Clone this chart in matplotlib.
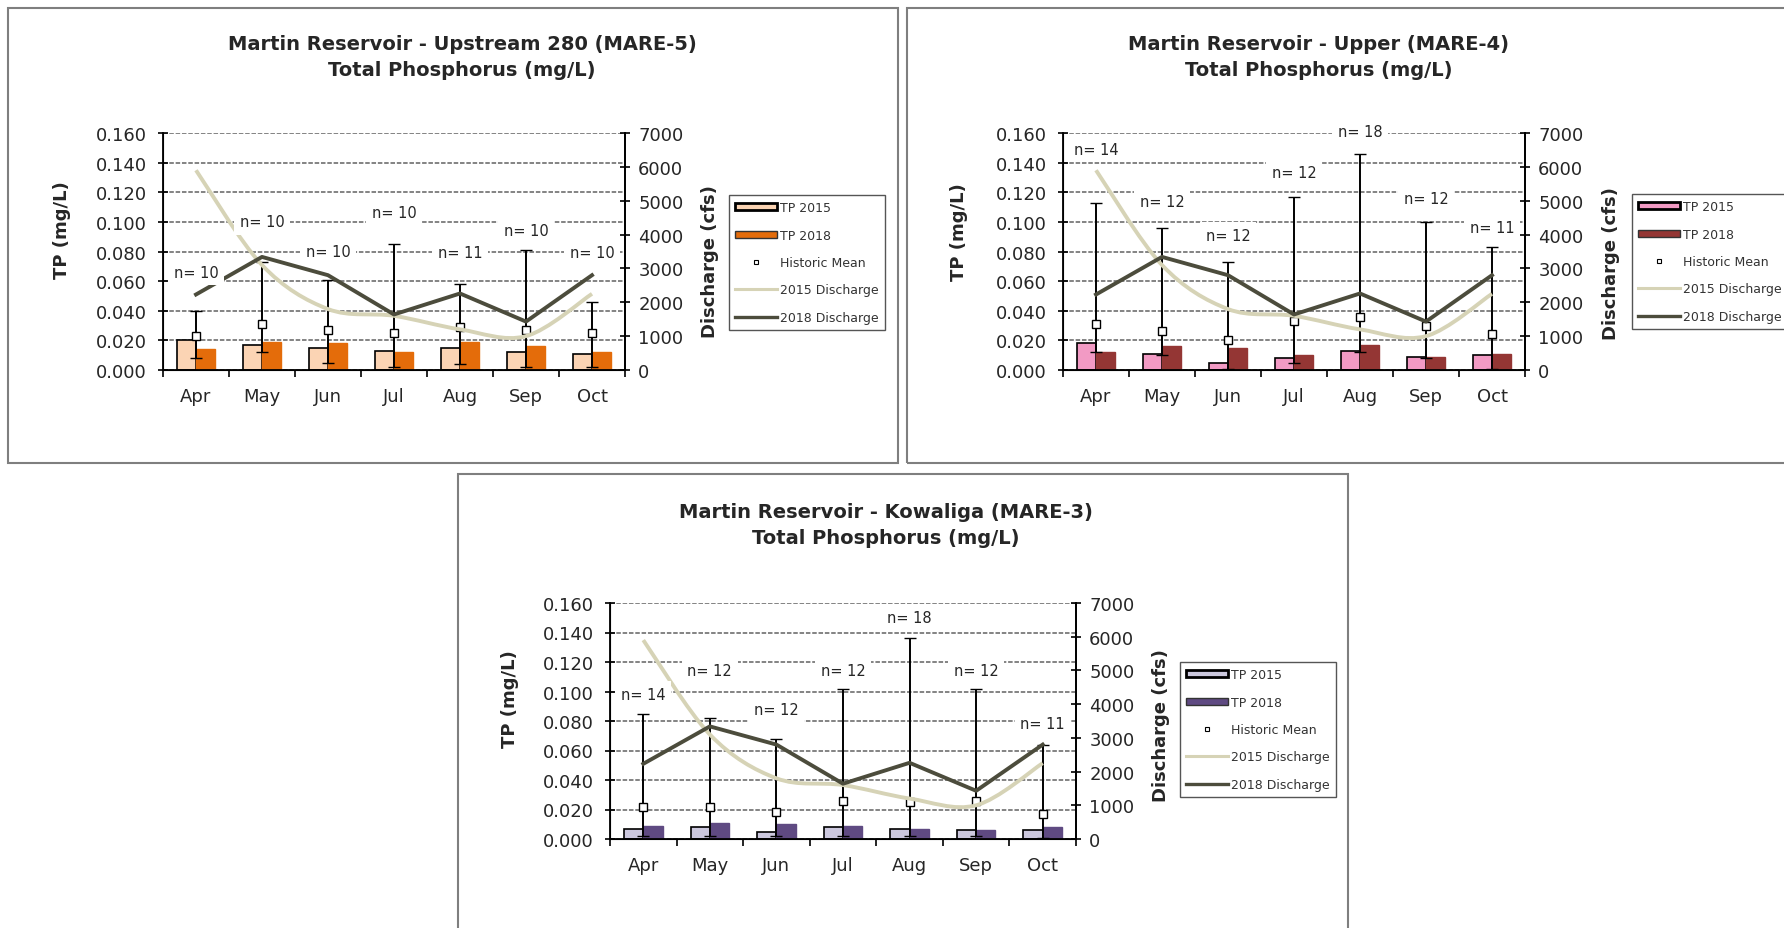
import numpy as np
import matplotlib.pyplot as plt
from matplotlib.path import Path
from matplotlib.patches import PathPatch, Rectangle
from matplotlib.lines import Line2D

W, H = 1784, 929

months = ['Apr', 'May', 'Jun', 'Jul', 'Aug', 'Sep', 'Oct']

# discharge (cfs) - same river flow on all three charts
discharge_2015 = [5900, 3100, 1800, 1600, 1200, 1000, 2250]
discharge_2018 = [2230, 3340, 2800, 1640, 2260, 1430, 2800]

# MARE-5, Upstream 280
mare5_tp2015 = [0.020, 0.017, 0.015, 0.013, 0.015, 0.012, 0.011]
mare5_tp2018 = [0.014, 0.019, 0.018, 0.012, 0.019, 0.016, 0.012]
mare5_mean = [0.023, 0.031, 0.027, 0.025, 0.029, 0.027, 0.025]
mare5_min = [0.008, 0.012, 0.005, 0.002, 0.004, 0.002, 0.002]
mare5_max = [0.040, 0.073, 0.061, 0.085, 0.058, 0.081, 0.046]
mare5_n = [10, 10, 10, 10, 11, 10, 10]
mare5_n_y = [0.066, 0.100, 0.080, 0.106, 0.079, 0.094, 0.079]

# MARE-4, Upper
mare4_tp2015 = [0.018, 0.011, 0.005, 0.008, 0.013, 0.009, 0.010]
mare4_tp2018 = [0.012, 0.016, 0.015, 0.010, 0.017, 0.009, 0.011]
mare4_mean = [0.031, 0.026, 0.020, 0.033, 0.036, 0.030, 0.024]
mare4_min = [0.012, 0.010, 0.001, 0.005, 0.012, 0.008, 0.001]
mare4_max = [0.113, 0.096, 0.073, 0.117, 0.146, 0.100, 0.083]
mare4_n = [14, 12, 12, 12, 18, 12, 11]
mare4_n_y = [0.149, 0.114, 0.091, 0.133, 0.161, 0.116, 0.096]

# MARE-3, Kowaliga
mare3_tp2015 = [0.007, 0.008, 0.005, 0.008, 0.007, 0.006, 0.006]
mare3_tp2018 = [0.009, 0.011, 0.010, 0.009, 0.007, 0.006, 0.008]
mare3_mean = [0.022, 0.022, 0.018, 0.026, 0.025, 0.026, 0.017]
mare3_min = [0.002, 0.002, 0.002, 0.002, 0.002, 0.002, 0.001]
mare3_max = [0.085, 0.082, 0.068, 0.102, 0.136, 0.102, 0.064]
mare3_n = [14, 12, 12, 12, 18, 12, 11]
mare3_n_y = [0.098, 0.114, 0.088, 0.114, 0.150, 0.114, 0.078]

Q15_COLOR = '#d6d3b6'
Q18_COLOR = '#4c4c3c'
GRID = '#7a7a7a'
TEXT = '#262626'

plt.rcParams['font.family'] = ['DejaVu Sans']


def fx(px):
    return px / W


def fy(py):
    return 1 - py / H


def smooth_path(x, y):
    # excel style smoothed line: bezier through every point
    x = np.asarray(x, float)
    y = np.asarray(y, float)
    n = len(x)
    verts = [(x[0], y[0])]
    codes = [Path.MOVETO]
    for i in range(n - 1):
        a = max(i - 1, 0)
        b = min(i + 2, n - 1)
        c1 = (x[i] + (x[i + 1] - x[a]) / 6, y[i] + (y[i + 1] - y[a]) / 6)
        c2 = (x[i + 1] - (x[b] - x[i]) / 6, y[i + 1] - (y[b] - y[i]) / 6)
        verts += [c1, c2, (x[i + 1], y[i + 1])]
        codes += [Path.CURVE4] * 3
    return Path(verts, codes)


def draw_panel(fig, p):
    l, t, r, b = p['axes']
    ax = fig.add_axes([fx(l), fy(b), (r - l) / W, (b - t) / H])
    x = np.arange(len(months))
    bw = 0.29

    ax.bar(x - bw / 2, p['tp15'], bw, color=p['c15'], edgecolor='black', lw=1.2, zorder=2)
    ax.bar(x + bw / 2, p['tp18'], bw, color=p['c18'], edgecolor=p['c18'], lw=1, zorder=2)

    mean = np.array(p['mean'])
    err = [mean - np.array(p['min']), np.array(p['max']) - mean]
    ax.errorbar(x, mean, yerr=err, fmt='s', ms=6, mfc='white', mec='black', mew=1,
                ecolor='black', elinewidth=1.4, capsize=4, capthick=1.4, zorder=3)

    ax.set_xlim(-0.5, len(months) - 0.5)
    ax.set_ylim(0, 0.160)
    ax.set_yticks(np.arange(0, 0.161, 0.02))
    ax.set_yticklabels(['%.3f' % v for v in np.arange(0, 0.161, 0.02)])
    ax.set_xticks(x)
    ax.set_xticklabels(months)
    ax.set_xticks(np.arange(-0.5, len(months), 1), minor=True)
    ax.tick_params(axis='x', which='major', length=0, pad=12, labelsize=13, labelcolor=TEXT)
    ax.tick_params(axis='x', which='minor', length=5, width=1.2, direction='out')
    ax.tick_params(axis='y', direction='inout', length=7, width=1.2, pad=8, labelsize=13,
                   labelcolor=TEXT)
    ax.yaxis.grid(True, color=GRID, ls=(0, (2.5, 1)), lw=1.3)
    ax.set_axisbelow(True)
    ax.spines['top'].set_visible(False)
    for s in ['left', 'bottom', 'right']:
        ax.spines[s].set_linewidth(1.3)

    ax2 = ax.twinx()
    ax2.set_ylim(0, 7000)
    ax2.set_yticks(range(0, 7001, 1000))
    ax2.tick_params(axis='y', direction='inout', length=7, width=1.2, pad=6, labelsize=13,
                    labelcolor=TEXT)
    ax2.spines['top'].set_visible(False)
    ax2.spines['right'].set_linewidth(1.3)
    ax2.add_patch(PathPatch(smooth_path(x, discharge_2015), fill=False,
                            edgecolor=Q15_COLOR, lw=2.8, zorder=2))
    ax2.plot(x, discharge_2018, color=Q18_COLOR, lw=2.8, zorder=3)

    for xi, n, ny in zip(x, p['n'], p['n_y']):
        ax2.text(xi, ny, 'n= %d' % n, transform=ax.transData, ha='center', va='center',
                 fontsize=10.5, color=TEXT, zorder=6,
                 bbox=dict(facecolor='white', edgecolor='none', pad=4))

    cx, y1, y2 = p['title']
    fig.text(fx(cx), fy(y1), p['name'], ha='center', va='center', fontsize=14,
             fontweight='bold', color=TEXT)
    fig.text(fx(cx), fy(y2), 'Total Phosphorus (mg/L)', ha='center', va='center',
             fontsize=14, fontweight='bold', color=TEXT)
    fig.text(fx(p['tp_lab'][0]), fy(p['tp_lab'][1]), 'TP (mg/L)', rotation=90,
             ha='center', va='center', fontsize=13, fontweight='bold', color=TEXT)
    fig.text(fx(p['q_lab'][0]), fy(p['q_lab'][1]), 'Discharge (cfs)', rotation=90,
             ha='center', va='center', fontsize=13, fontweight='bold', color=TEXT)

    handles = [
        Rectangle((0, 0), 1, 1, facecolor=p['c15'], edgecolor='black', lw=2),
        Rectangle((0, 0), 1, 1, facecolor=p['c18'], edgecolor='#333333', lw=1),
        Line2D([], [], ls='none', marker='s', ms=3.5, mfc='white', mec='black', mew=0.8),
        Line2D([], [], color=Q15_COLOR, lw=2.2),
        Line2D([], [], color=Q18_COLOR, lw=2.4),
    ]
    labels = ['TP 2015', 'TP 2018', 'Historic Mean', '2015 Discharge', '2018 Discharge']
    lx, ly = p['legend']
    leg = fig.legend(handles, labels, loc='upper left', bbox_to_anchor=(fx(lx), fy(ly)),
                     bbox_transform=fig.transFigure, borderaxespad=0, fontsize=9,
                     handlelength=3.3, handleheight=0.5, handletextpad=0.3,
                     labelspacing=1.15, borderpad=0.5, fancybox=False, framealpha=1)
    leg.get_frame().set_edgecolor('#555555')
    leg.get_frame().set_linewidth(1.0)
    for txt in leg.get_texts():
        txt.set_color('#333333')

    bl, bt, br, bb = p['border']
    fig.add_artist(Rectangle((fx(bl), fy(bb)), (br - bl) / W, (bb - bt) / H,
                             transform=fig.transFigure, fill=False,
                             edgecolor='#7f7f7f', lw=1.5))


panels = [
    dict(name='Martin Reservoir - Upstream 280 (MARE-5)',
         tp15=mare5_tp2015, tp18=mare5_tp2018, mean=mare5_mean, min=mare5_min, max=mare5_max,
         n=mare5_n, n_y=mare5_n_y, c15='#fbd4b4', c18='#e46c0a',
         axes=(163, 134, 625, 371), title=(462, 44, 70), tp_lab=(62, 230), q_lab=(710, 262),
         legend=(729, 196), border=(8, 9, 898, 464)),
    dict(name='Martin Reservoir - Upper (MARE-4)',
         tp15=mare4_tp2015, tp18=mare4_tp2018, mean=mare4_mean, min=mare4_min, max=mare4_max,
         n=mare4_n, n_y=mare4_n_y, c15='#f29ac4', c18='#943634',
         axes=(1063, 134, 1525, 371), title=(1319, 44, 70), tp_lab=(959, 232), q_lab=(1611, 264),
         legend=(1632, 195), border=(907, 9, 1800, 464)),
    dict(name='Martin Reservoir - Kowaliga (MARE-3)',
         tp15=mare3_tp2015, tp18=mare3_tp2018, mean=mare3_mean, min=mare3_min, max=mare3_max,
         n=mare3_n, n_y=mare3_n_y, c15='#ccc8de', c18='#5f4a82',
         axes=(610, 604, 1076, 840), title=(886, 513, 539), tp_lab=(510, 699), q_lab=(1161, 726),
         legend=(1180, 663), border=(458, 475, 1348, 940)),
]

fig = plt.figure(figsize=(W / 100, H / 100), dpi=100)
fig.patch.set_facecolor('white')
for p in panels:
    draw_panel(fig, p)

fig.savefig('out.png', dpi=100, facecolor='white')
